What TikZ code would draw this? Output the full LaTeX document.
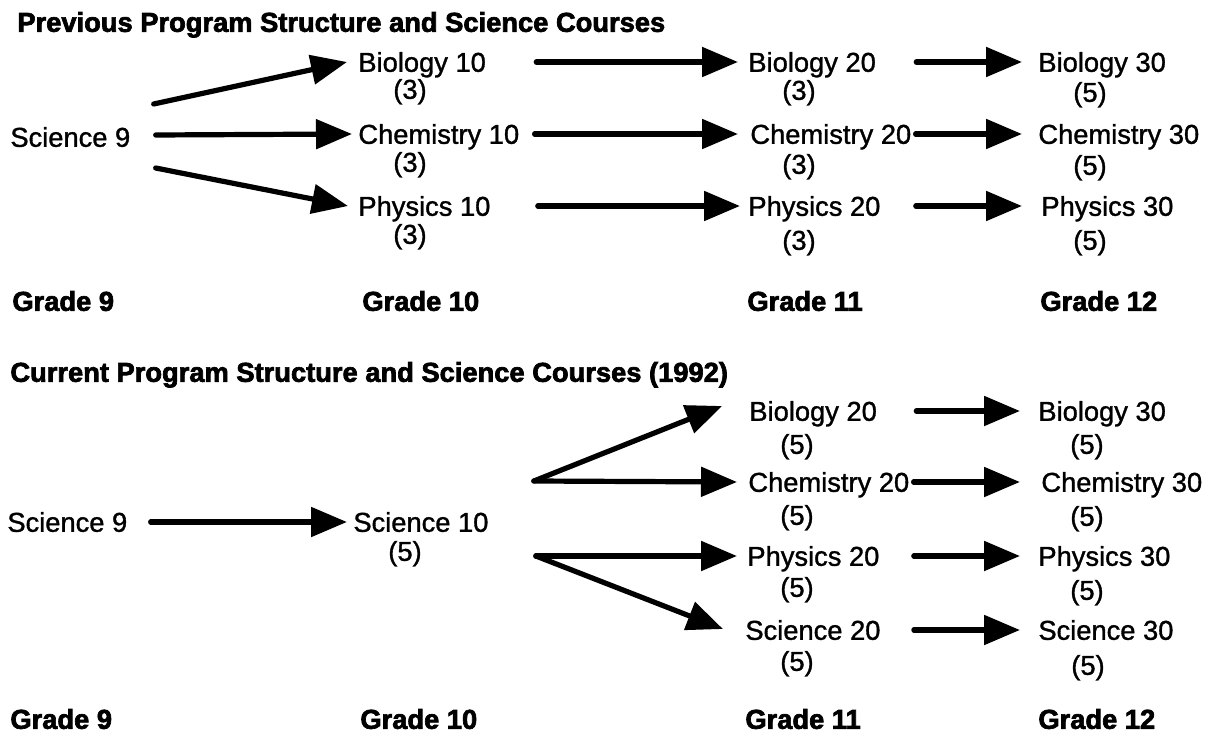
\documentclass[tikz,border=0pt]{standalone}
\usepackage{fontspec}
\setmainfont{Liberation Sans}
\newfontfamily\coursefont[FakeBold=1.2]{Liberation Sans}
\newfontfamily\heavyfont[FakeBold=2.5]{Liberation Sans Bold}
\usetikzlibrary{arrows.meta,calc,positioning}

\tikzset{
  course/.style={inner sep=0pt,anchor=west,text height=13.2pt,text depth=3.4pt,
    font=\fontsize{13.65}{16}\selectfont\coursefont},
  credit/.style={course,anchor=center},
  heading/.style={course,font=\fontsize{13.65}{16}\selectfont\heavyfont},
  arr/.style={line width=2.6pt,line cap=round,-{Triangle[length=18pt,width=14.5pt]}}
}

\begin{document}
\begin{tikzpicture}[x=0.5pt,y=-0.5pt]
  \useasboundingbox (0,0) rectangle (1211,733);
  % previous program
  \node[heading] (titleP) at (17,22) {Previous Program Structure and Science Courses};
  \node[course] (sci9P) at (10,137) {Science 9};
  \node[course] (bio10) at (358,62) {Biology 10};
  \node[course] (chem10) at (358,134) {Chemistry 10};
  \node[course] (phys10) at (358,206) {Physics 10};
  \node[course] (bio20P) at (748,62) {Biology 20};
  \node[course] (chem20P) at (750,134) {Chemistry 20};
  \node[course] (phys20P) at (748,206) {Physics 20};
  \node[course] (bio30P) at (1038,62) {Biology 30};
  \node[course] (chem30P) at (1038,134) {Chemistry 30};
  \node[course] (phys30P) at (1041,206) {Physics 30};
  \node[credit] (bio10cr) at (410,89) {(3)};
  \node[credit] (chem10cr) at (410,162) {(3)};
  \node[credit] (phys10cr) at (410,234) {(3)};
  \node[credit] (bio20Pcr) at (799,90) {(3)};
  \node[credit] (chem20Pcr) at (799,164) {(3)};
  \node[credit] (phys20Pcr) at (799,240) {(3)};
  \node[credit] (bio30Pcr) at (1090,92) {(5)};
  \node[credit] (chem30Pcr) at (1090,165) {(5)};
  \node[credit] (phys30Pcr) at (1090,240) {(5)};
  \node[heading] (gr9P) at (12,301) {Grade 9};
  \node[heading] (gr10P) at (362,301) {Grade 10};
  \node[heading] (gr11P) at (747,301) {Grade 11};
  \node[heading] (gr12P) at (1040,301) {Grade 12};

  \draw[arr] ($(sci9P.east)+(23,-33)$) -- ($(bio10.west)+(-11,0)$);
  \draw[arr] ($(sci9P.east)+(25,-2)$) -- ($(chem10.west)+(-6,0)$);
  \draw[arr] ($(sci9P.east)+(25,31)$) -- ($(phys10.west)+(-10,0)$);
  \draw[arr] ($(bio10.east)+(50,0)$) -- ($(bio20P.west)+(-10,0)$);
  \draw[arr] ($(chem10.east)+(15,0)$) -- ($(chem20P.west)+(-12,0)$);
  \draw[arr] ($(phys10.east)+(47,0)$) -- ($(phys20P.west)+(-8,0)$);
  \draw[arr] ($(bio20P.east)+(40,0)$) -- ($(bio30P.west)+(-16,0)$);
  \draw[arr] ($(chem20P.east)+(4,0)$) -- ($(chem30P.west)+(-16,0)$);
  \draw[arr] ($(phys20P.east)+(35,0)$) -- ($(phys30P.west)+(-19,0)$);

  % current program (1992)
  \node[heading] (titleC) at (10,372) {Current Program Structure and Science Courses (1992)};
  \node[course] (sci9C) at (7,522) {Science 9};
  \node[course] (sci10) at (353,522) {Science 10};
  \node[credit] (sci10cr) at (405,551) {(5)};
  \node[course] (bio20C) at (749,411) {Biology 20};
  \node[course] (chem20C) at (748,482) {Chemistry 20};
  \node[course] (phys20C) at (747,556) {Physics 20};
  \node[course] (sci20C) at (745,630) {Science 20};
  \node[course] (bio30C) at (1038,411) {Biology 30};
  \node[course] (chem30C) at (1041,482) {Chemistry 30};
  \node[course] (phys30C) at (1038,556) {Physics 30};
  \node[course] (sci30C) at (1038,630) {Science 30};
  \node[credit] (bio20Ccr) at (797,444) {(5)};
  \node[credit] (chem20Ccr) at (797,515) {(5)};
  \node[credit] (phys20Ccr) at (797,587) {(5)};
  \node[credit] (sci20Ccr) at (797,661) {(5)};
  \node[credit] (bio30Ccr) at (1087,444) {(5)};
  \node[credit] (chem30Ccr) at (1087,516) {(5)};
  \node[credit] (phys30Ccr) at (1087,590) {(5)};
  \node[credit] (sci30Ccr) at (1088,665) {(5)};
  \node[heading] (gr9C) at (10,719) {Grade 9};
  \node[heading] (gr10C) at (360,719) {Grade 10};
  \node[heading] (gr11C) at (745,719) {Grade 11};
  \node[heading] (gr12C) at (1038,719) {Grade 12};

  \coordinate (forkA) at ($(sci10.east)+(45,-41)$);
  \coordinate (forkB) at ($(sci10.east)+(47,34)$);
  \draw[arr] ($(sci9C.east)+(23,0)$) -- ($(sci10.west)+(-6,0)$);
  \draw[arr] (forkA) -- ($(bio20C.west)+(-27,-5)$);
  \draw[arr] (forkA) -- ($(chem20C.west)+(-11,0)$);
  \draw[arr] (forkB) -- ($(phys20C.west)+(-10,0)$);
  \draw[arr] (forkB) -- ($(sci20C.west)+(-22,-1)$);
  \draw[arr] ($(bio20C.east)+(39,0)$) -- ($(bio30C.west)+(-18,0)$);
  \draw[arr] ($(chem20C.east)+(4,0)$) -- ($(chem30C.west)+(-21,0)$);
  \draw[arr] ($(phys20C.east)+(34,0)$) -- ($(phys30C.west)+(-18,0)$);
  \draw[arr] ($(sci20C.east)+(33,0)$) -- ($(sci30C.west)+(-18,0)$);
\end{tikzpicture}
\end{document}
